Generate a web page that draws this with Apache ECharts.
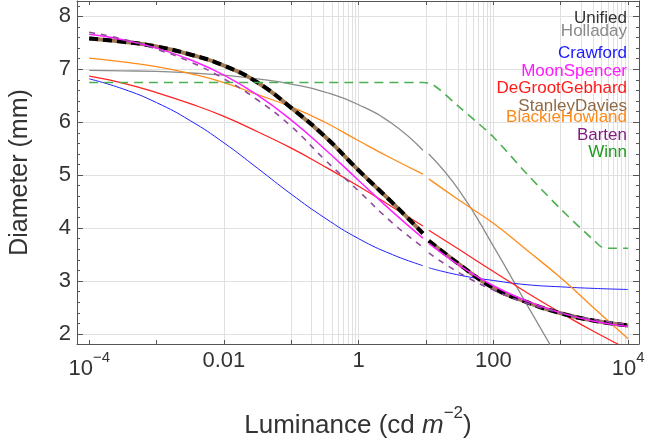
<!DOCTYPE html>
<html>
<head>
<meta charset="utf-8">
<script src="https://cdn.jsdelivr.net/npm/echarts@6/dist/echarts.min.js"></script>
<style>
  html, body { margin: 0; padding: 0; background: #fff; }
  #chart { width: 660px; height: 444px; }
</style>
</head>
<body>
<div id="chart"></div>
<script>
// luminance samples (cd/m^2) at half decades, null gap near 10 as in the original plot
const lum = [0.0001, 0.000316, 0.001, 0.00316, 0.01, 0.0316, 0.1, 0.316, 1, 3.16, 9, 10, 11, 31.6, 100, 316, 1000, 3160, 10000];

const unified = [7.58, 7.52, 7.43, 7.28, 7.07, 6.75, 6.27, 5.73, 5.09, 4.48, 3.90, null, 3.76, 3.31, 2.87, 2.60, 2.39, 2.25, 2.16];
const holladay = [6.98, 6.97, 6.96, 6.93, 6.89, 6.82, 6.72, 6.57, 6.33, 5.97, 5.47, null, 5.40, 4.70, 3.66, 2.55, 1.45, null, null];
const crawford = [6.82, 6.63, 6.37, 6.03, 5.61, 5.13, 4.64, 4.19, 3.80, 3.50, 3.29, null, 3.25, 3.11, 3.01, 2.93, 2.89, 2.86, 2.84];
const moonSpencer = [7.66, 7.56, 7.40, 7.18, 6.89, 6.51, 6.04, 5.49, 4.90, 4.31, 3.81, null, 3.71, 3.29, 2.91, 2.62, 2.40, 2.24, 2.14];
const deGroot = [6.87, 6.74, 6.56, 6.35, 6.11, 5.82, 5.51, 5.16, 4.79, 4.40, 4.04, null, 3.96, 3.59, 3.18, 2.78, 2.40, 2.04, 1.71];
const stanleyDavies = [7.58, 7.52, 7.43, 7.28, 7.07, 6.75, 6.27, 5.73, 5.09, 4.48, 3.90, null, 3.76, 3.31, 2.87, 2.60, 2.39, 2.25, 2.16];
const blackieHowland = [7.21, 7.14, 7.05, 6.92, 6.75, 6.52, 6.29, 6.00, 5.65, 5.31, 5.02, null, 4.93, 4.52, 4.09, 3.58, 3.06, 2.48, 1.91];
const barten = [7.70, 7.57, 7.38, 7.14, 6.82, 6.42, 5.92, 5.29, 4.70, 4.10, 3.64, null, 3.53, 3.15, 2.83, 2.58, 2.40, 2.27, 2.18];

const winnLum = [0.0001, 9, 13, 31.6, 100, 316, 1000, 3160, 4500, 10000];
const winn = [6.75, 6.75, 6.70, 6.28, 5.72, 5.02, 4.36, 3.76, 3.62, 3.62];

const legendNames = ['Unified', 'Holladay', 'Crawford', 'MoonSpencer', 'DeGrootGebhard', 'StanleyDavies', 'BlackieHowland', 'Barten', 'Winn'];

const tickExp = [-4, -2, 0, 2, 4];
const tickText = ['{b|10}{s|\u22124}', '0.01', '1', '100', '{b|10}{s|4}'];

// vertical grid lines
const gridX = [0.0001, 0.01, 1, 100, 10000];
[0.001, 0.1, 10, 1000].forEach(d => {
    for (let k = 1; k <= 9; k++) gridX.push(k * d);
});

const FONT = '"Liberation Sans", Arial, sans-serif';
const xMin = Math.pow(10, -4.181);
const xMax = Math.pow(10, 4.162);

function pairs(xs, ys) {
    return xs.map((x, i) => [x, ys[i]]);
}

function line(name, xs, ys, color, width, type, z, smooth) {
    return {
        name: name,
        type: 'line',
        data: pairs(xs, ys),
        smooth: smooth || 0.5,
        symbol: 'none',
        connectNulls: false,
        z: z,
        lineStyle: { color: color, width: width, type: type || 'solid', cap: 'butt' }
    };
}

const chart = echarts.init(document.getElementById('chart'));

const legendColors = ['#333333', '#8a8a8a', '#1a1aff', '#ff1aff', '#ff1a1a', '#8f6a45', '#ff8a1a', '#7f1a7f', '#1f9a1f'];
const legendY = [18, 31.5, 53, 71, 88.5, 106, 117.5, 135, 152.5];

const option = {
    animation: false,
    backgroundColor: '#fff',
    grid: { left: 73, right: 21, top: 1, bottom: 96 },
    xAxis: [{
        type: 'log',
        logBase: 10,
        min: xMin,
        max: xMax,
        name: '{a|Luminance (cd }{i|m}{s|\u22122}{a|)}',
        nameLocation: 'middle',
        nameGap: 61,
        nameTextStyle: {
            rich: {
                a: { fontSize: 26, fontFamily: FONT, color: '#333', lineHeight: 34, verticalAlign: 'bottom' },
                i: { fontSize: 26, fontFamily: FONT, fontStyle: 'italic', color: '#333', lineHeight: 34, verticalAlign: 'bottom' },
                s: { fontSize: 17, fontFamily: FONT, color: '#333', lineHeight: 22, verticalAlign: 'top' }
            }
        },
        axisLine: { show: true, onZero: false, lineStyle: { color: '#555', width: 1 } },
        axisTick: { show: true, inside: true, length: 4, lineStyle: { color: '#555' } },
        splitLine: { show: false },
        axisLabel: {
            margin: 6,
            fontSize: 22,
            fontFamily: FONT,
            color: '#333',
            showMinLabel: false,
            showMaxLabel: false,
            formatter: function (v) {
                const lg = Math.log10(v);
                const e = Math.round(lg);
                if (Math.abs(lg - e) > 1e-6) return '';
                const i = tickExp.indexOf(e);
                return i < 0 ? '' : tickText[i];
            },
            rich: {
                b: { fontSize: 22, fontFamily: FONT, color: '#333', lineHeight: 38, verticalAlign: 'middle' },
                s: { fontSize: 15, fontFamily: FONT, color: '#333', lineHeight: 26, verticalAlign: 'top' }
            }
        }
    }, {
        type: 'log',
        logBase: 10,
        min: xMin,
        max: xMax,
        position: 'top',
        axisLine: { show: true, onZero: false, lineStyle: { color: '#555', width: 1 } },
        axisTick: { show: true, inside: true, length: 4, lineStyle: { color: '#555' } },
        axisLabel: { show: false },
        splitLine: { show: false }
    }],
    yAxis: [{
        type: 'value',
        min: 1.81,
        max: 8.29,
        splitNumber: 6,
        name: 'Diameter (mm)',
        nameLocation: 'middle',
        nameGap: 44,
        nameTextStyle: { fontSize: 25, fontFamily: FONT, color: '#333' },
        axisLine: { show: true, onZero: false, lineStyle: { color: '#555', width: 1 } },
        axisTick: { show: true, inside: true, length: 6, lineStyle: { color: '#555' } },
        minorTick: { show: true, splitNumber: 5, length: 3, lineStyle: { color: '#555' } },
        splitLine: { show: true, lineStyle: { color: '#e0e0e0', width: 1 } },
        axisLabel: {
            margin: 6,
            fontSize: 22,
            fontFamily: FONT,
            color: '#333',
            formatter: function (v) {
                return Math.abs(v - Math.round(v)) < 1e-6 ? String(Math.round(v)) : '';
            }
        }
    }, {
        type: 'value',
        min: 1.81,
        max: 8.29,
        splitNumber: 6,
        position: 'right',
        axisLine: { show: true, onZero: false, lineStyle: { color: '#555', width: 1 } },
        axisTick: { show: true, inside: true, length: 6, lineStyle: { color: '#555' } },
        minorTick: { show: true, splitNumber: 5, length: 3, lineStyle: { color: '#555' } },
        splitLine: { show: false },
        axisLabel: { show: false }
    }],
    graphic: legendNames.map((n, i) => ({
        type: 'text',
        x: 627,
        y: legendY[i],
        z: 100,
        style: {
            text: n,
            fill: legendColors[i],
            font: '17px ' + FONT,
            textAlign: 'right',
            textVerticalAlign: 'middle'
        }
    })),
    series: [
        {
            name: 'grid',
            type: 'line',
            data: [],
            z: 0,
            markLine: {
                silent: true,
                symbol: 'none',
                z: 0,
                label: { show: false },
                lineStyle: { color: '#e0e0e0', width: 1, type: 'solid' },
                data: gridX.map(v => ({ xAxis: v }))
            }
        },
        line('Holladay', lum, holladay, '#8c8c8c', 1.3, 'solid', 3),
        line('Crawford', lum, crawford, '#2020ff', 1, 'solid', 3),
        line('DeGrootGebhard', lum, deGroot, '#ff2020', 1.2, 'solid', 3),
        line('BlackieHowland', lum, blackieHowland, '#ff8c1a', 1.3, 'solid', 3),
        line('StanleyDavies', lum, stanleyDavies, '#a07a52', 4, 'solid', 4),
        line('Unified', lum, unified, '#000000', 4, [9, 5], 5),
        line('MoonSpencer', lum, moonSpencer, '#ff20ff', 1.5, 'solid', 6),
        line('Barten', lum, barten, '#8e4a9e', 1.6, [6, 6], 7),
        line('Winn', winnLum, winn, '#4caf50', 1.6, [9, 6], 7, 0.3)
    ]
};

chart.setOption(option);
</script>
</body>
</html>
